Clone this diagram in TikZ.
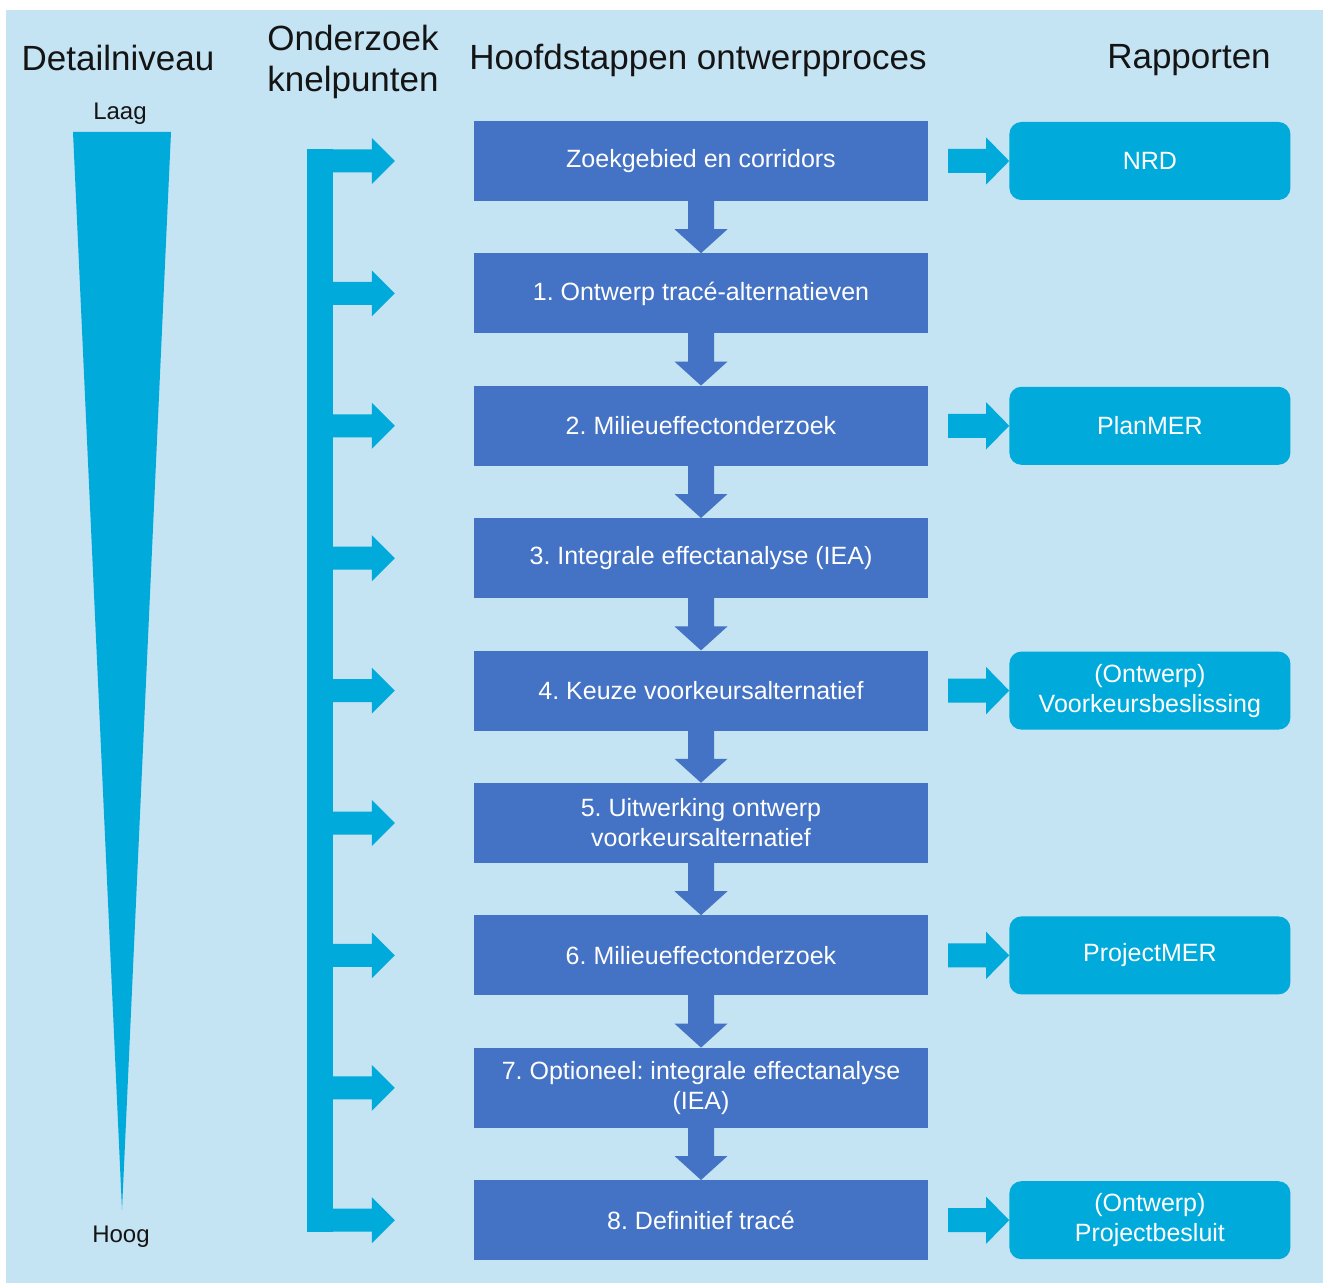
\documentclass[tikz,border=0pt]{standalone}
\usepackage{fontspec}
\setmainfont{Liberation Sans}
\usepackage{xcolor}
\usetikzlibrary{calc,positioning}
\definecolor{bgblue}{HTML}{C4E3F3}
\definecolor{stepblue}{HTML}{4472C4}
\definecolor{repcyan}{HTML}{00AADB}
\frenchspacing

\begin{document}
\begin{tikzpicture}[x=1pt, y=-1pt,
  stepbox/.style={fill=stepblue, text=white, minimum width=454pt, minimum height=80pt, inner sep=0pt, align=center, font=\fontsize{25}{30}\selectfont},
  reportbox/.style={fill=repcyan, text=white, rounded corners=12pt, minimum width=281pt, minimum height=78pt, inner sep=0pt, align=center, font=\fontsize{25}{30}\selectfont},
  headtitle/.style={align=center, font=\fontsize{35}{41}\selectfont, text=black!92},
  levellabel/.style={anchor=base, font=\fontsize{24}{28}\selectfont, text=black!92}]
\useasboundingbox (0,0) rectangle (1323,1284);
\fill[bgblue] (6,10) rectangle (1323,1283);

% kolomkoppen
\node[headtitle, anchor=base] (detail) at (118,71) {Detailniveau};
\node[headtitle] (knel) at (353,62) {Onderzoek\\knelpunten};
\node[headtitle, anchor=base] (hoofd) at (698,70) {Hoofdstappen ontwerpproces};
\node[headtitle, anchor=base] (rapp) at (1189,69) {Rapporten};

% detailniveau
\node[levellabel] (laag) at (120,120) {Laag};
\node[levellabel] (hoog) at (121,1242) {Hoog};
\fill[repcyan] (73,132) -- (171,132) -- (122,1210) -- cycle;

% hoofdstappen
\foreach \txt [count=\i from 0] in {Zoekgebied en corridors, 1. Ontwerp tracé-alternatieven, 2. Milieueffectonderzoek, 3. Integrale effectanalyse (IEA), 4. Keuze voorkeursalternatief, {5. Uitwerking ontwerp\\voorkeursalternatief}, 6. Milieueffectonderzoek, {7. Optioneel: integrale effectanalyse\\(IEA)}, 8. Definitief tracé}
  \node[stepbox] (s\i) at (701, 161+132.4*\i) {\txt};

\foreach \a [evaluate=\a as \b using int(\a+1)] in {0,...,7}
  \fill[stepblue] ($(s\a.south)+(-13,-1)$) -- ($(s\b.north)+(-13,-24)$) -- ($(s\b.north)+(-26.5,-24)$) -- (s\b.north)
    -- ($(s\b.north)+(26.5,-24)$) -- ($(s\b.north)+(13,-24)$) -- ($(s\a.south)+(13,-1)$) -- cycle;

% rapporten
\node[reportbox, right=81pt of s0] (nrd) {NRD};
\node[reportbox, right=81pt of s2] (planmer) {PlanMER};
\node[reportbox, right=81pt of s4] (vkb) {(Ontwerp)\\Voorkeursbeslissing};
\node[reportbox, right=81pt of s6] (pmer) {ProjectMER};
\node[reportbox, right=81pt of s8] (pbesluit) {(Ontwerp)\\Projectbesluit};

\foreach \s/\r in {s0/nrd, s2/planmer, s4/vkb, s6/pmer, s8/pbesluit} {
  \coordinate (\r-in) at ($(\s.east)+(20,0)$);
  \fill[repcyan] ($(\r-in)+(0,-12)$) -- ($(\r.west)+(-23,-12)$) -- ($(\r.west)+(-23,-23.5)$) -- (\r.west)
    -- ($(\r.west)+(-23,23.5)$) -- ($(\r.west)+(-23,12)$) -- ($(\r-in)+(0,12)$) -- cycle;
}

% knelpunten
\coordinate (bartop) at ($(s0.west)+(-167,-11.5)$);
\coordinate (barbot) at ($(s8.west)+(-141,11.5)$);
\fill[repcyan] (bartop) rectangle (barbot);
\foreach \i in {0,...,8} {
  \coordinate (k\i) at ($(s\i.west)+(-79,0)$);
  \fill[repcyan] ($(k\i)+(-75,-11.5)$) -- ($(k\i)+(-23,-11.5)$) -- ($(k\i)+(-23,-23)$) -- (k\i)
    -- ($(k\i)+(-23,23)$) -- ($(k\i)+(-23,11.5)$) -- ($(k\i)+(-75,11.5)$) -- cycle;
}
\end{tikzpicture}
\end{document}
